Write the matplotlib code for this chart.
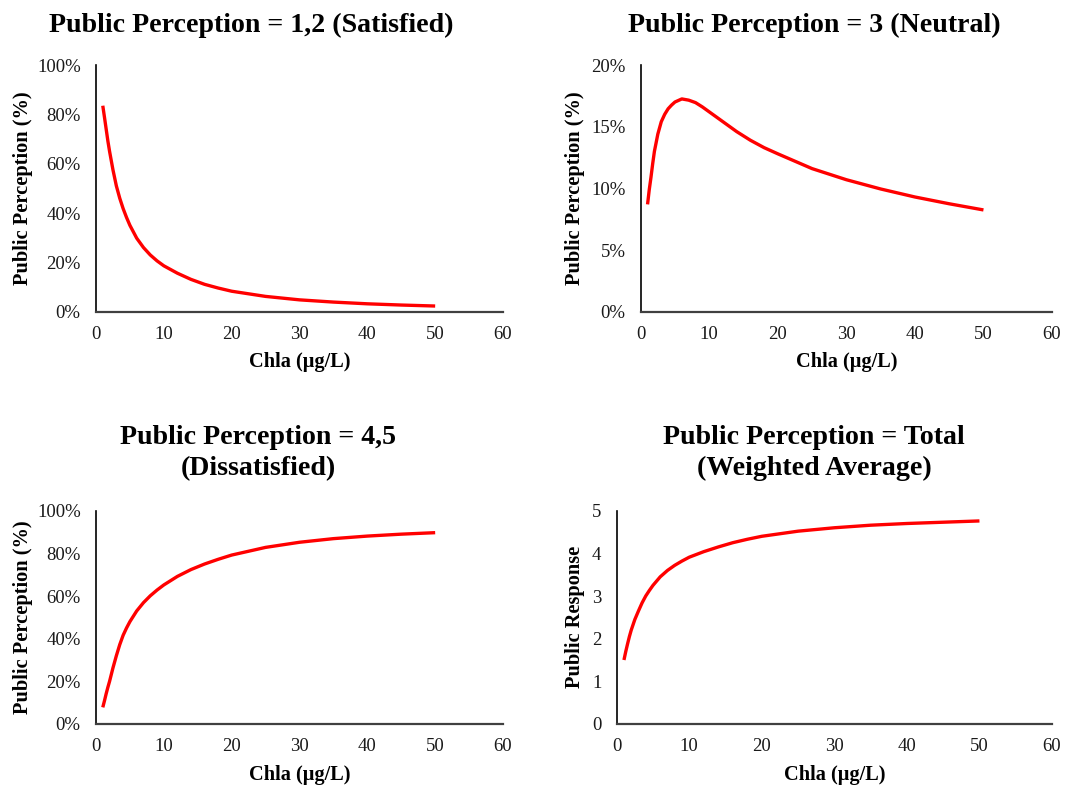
import matplotlib
matplotlib.use("Agg")
import matplotlib.pyplot as plt
from matplotlib.ticker import PercentFormatter, MultipleLocator

plt.rcParams['font.family'] = ['Liberation Serif', 'DejaVu Serif']

# Chla concentration (ug/L) where the curves were read
chla = [1, 1.25, 1.5, 1.75, 2, 2.5, 3, 3.5, 4, 4.5, 5, 6, 7, 8, 9, 10,
        12, 14, 16, 18, 20, 25, 30, 35, 40, 45, 50]

# Public perception = 1,2 (satisfied), %
satisfied = [83.5, 78.8, 74.0, 69.2, 65.0, 57.5, 51.0, 46.0, 41.8, 38.2,
             35.0, 29.8, 26.0, 23.0, 20.6, 18.6,
             15.6, 13.1, 11.1, 9.6, 8.3, 6.2, 4.8, 3.9, 3.2, 2.7, 2.3]

# Public perception = 3 (neutral), %
neutral = [8.7, 9.9, 10.9, 12.0, 13.0, 14.4, 15.4, 16.0, 16.45, 16.75,
           17.0, 17.25, 17.15, 16.95, 16.6, 16.2,
           15.4, 14.6, 13.9, 13.3, 12.8, 11.6, 10.7, 9.95, 9.3, 8.75, 8.25]

# Public perception = 4,5 (dissatisfied), %
dissatisfied = [7.8, 10.9, 14.2, 17.2, 20.0, 26.3, 32.0, 37.2, 41.6, 45.0,
                48.0, 53.0, 56.9, 60.1, 62.8, 65.2,
                69.2, 72.4, 75.0, 77.2, 79.2, 82.8, 85.2, 86.9, 88.1, 89.0, 89.7]

# Weighted average public response (1-5 scale)
weighted = [1.5, 1.7, 1.88, 2.05, 2.2, 2.45, 2.65, 2.84, 3.0, 3.13,
            3.25, 3.45, 3.6, 3.72, 3.82, 3.91,
            4.04, 4.15, 4.25, 4.33, 4.4, 4.52, 4.6, 4.66, 4.7, 4.73, 4.76]

titles = ["Public Perception = 1,2 (Satisfied)",
          "Public Perception = 3 (Neutral)",
          "Public Perception = 4,5\n(Dissatisfied)",
          "Public Perception = Total\n(Weighted Average)"]
ylabels = ["Public Perception (%)", "Public Perception (%)",
           "Public Perception (%)", "Public Response"]

W, H = 1069, 785
fig = plt.figure(figsize=(W / 100, H / 100), dpi=100)


def px_axes(left, top, right, bottom):
    return fig.add_axes([left / W, 1 - bottom / H, (right - left) / W, (bottom - top) / H])


axes = [
    px_axes(96, 65, 503, 311.7),
    px_axes(640.7, 65, 1052, 311.7),
    px_axes(96, 510.7, 503, 724),
    px_axes(616.7, 510.7, 1052, 724),
]
series = [satisfied, neutral, dissatisfied, weighted]
ylims = [(0, 100), (0, 20), (0, 100), (0, 5)]
ysteps = [20, 5, 20, 1]

for ax, ys, lim, step, yl in zip(axes, series, ylims, ysteps, ylabels):
    ax.plot(chla, ys, color='#FF0000', lw=2.4, solid_capstyle='butt',
            solid_joinstyle='round')
    ax.set_xlim(0, 60)
    ax.set_ylim(*lim)
    ax.xaxis.set_major_locator(MultipleLocator(10))
    ax.yaxis.set_major_locator(MultipleLocator(step))
    if step != 1:
        ax.yaxis.set_major_formatter(PercentFormatter(100, decimals=0))
    for s in ['top', 'right']:
        ax.spines[s].set_visible(False)
    ax.spines['left'].set_color('black')
    ax.spines['left'].set_linewidth(1.2)
    ax.spines['bottom'].set_color('#404040')
    ax.spines['bottom'].set_linewidth(1.6)
    ax.tick_params(length=0, labelsize=13.5, colors='#1a1a1a')
    ax.tick_params(axis='y', pad=11)
    ax.tick_params(axis='x', pad=10)
    ax.set_xlabel("Chla (µg/L)", fontsize=14.7, fontweight='bold', labelpad=7)
    ax.set_ylabel(yl, fontsize=14.7, fontweight='bold')

axes[0].yaxis.set_label_coords(-0.155, 0.5)
axes[2].yaxis.set_label_coords(-0.155, 0.5)
axes[1].yaxis.set_label_coords(-0.136, 0.5)
axes[3].yaxis.set_label_coords(-0.072, 0.5)

title_pos = [(251, 25), (814, 25), (258, 453), (814, 453)]
for (tx, ty), t in zip(title_pos, titles):
    fig.text(tx / W, 1 - ty / H, t, ha='center', va='center',
             fontsize=20.1, fontweight='bold', linespacing=1.34)

fig.savefig("out.png", dpi=100)
